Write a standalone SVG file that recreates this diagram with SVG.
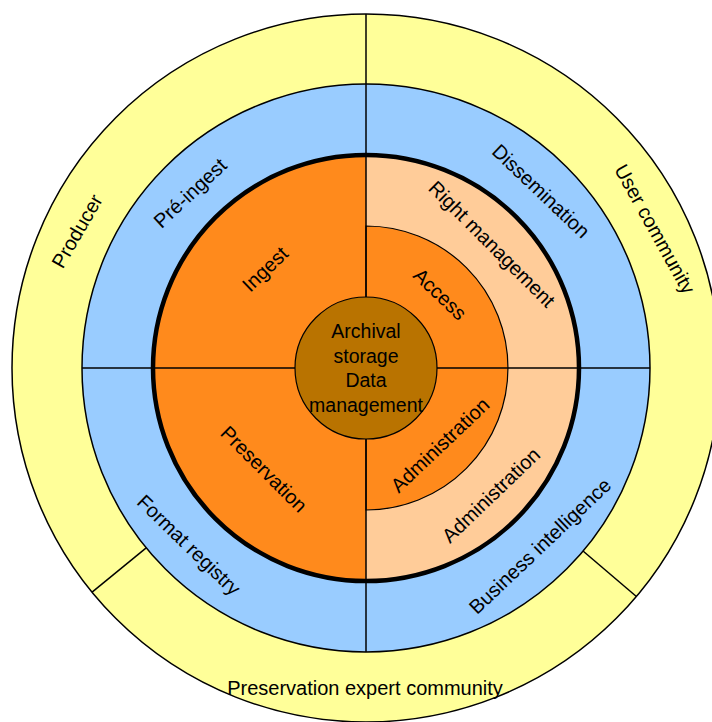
<svg xmlns="http://www.w3.org/2000/svg" width="712" height="722" viewBox="0 0 712 722">
<style>
.ln{stroke:#000;stroke-width:1.5;fill:none}
.t{font-family:"Liberation Sans",Arial,sans-serif;font-size:20px;fill:#000;text-anchor:middle;dominant-baseline:central}
.c{font-family:"Liberation Sans",Arial,sans-serif;font-size:19.5px;fill:#000;text-anchor:middle}
</style>
<rect width="712" height="722" fill="#fff"/>
<g id="outer-ring">
<circle cx="366" cy="368" r="354" fill="#FFFF99" stroke="#000" stroke-width="1.5"/>
</g>
<g id="blue-ring">
<circle cx="366" cy="368" r="284" fill="#99CCFF" stroke="#000" stroke-width="1.5"/>
</g>
<g id="core">
<circle cx="366" cy="368" r="213" fill="#FF8A1C"/>
<path d="M366,155 A213,213 0 0 1 366,581 Z" fill="#FFCC99"/>
<path d="M366,226 A142,142 0 0 1 366,510 Z" fill="#FF8A1C" stroke="#000" stroke-width="1.2"/>
</g>
<g id="connectors">
<line class="ln" x1="366" y1="14" x2="366" y2="652"/>
<line class="ln" x1="82" y1="368" x2="650" y2="368"/>
<line class="ln" x1="583" y1="551" x2="636.4" y2="596.5"/>
<line class="ln" x1="146.2" y1="547.9" x2="92.1" y2="592.2"/>
</g>
<g id="core-border">
<circle cx="366" cy="368" r="213" fill="none" stroke="#000" stroke-width="4.5"/>
</g>
<g id="archival-storage">
<circle cx="366" cy="368" r="71" fill="#B97300" stroke="#000" stroke-width="1.2"/>
<text class="c" x="366" y="338">Archival</text>
<text class="c" x="366" y="362.5">storage</text>
<text class="c" x="366" y="387">Data</text>
<text class="c" x="366" y="411.5">management</text>
</g>
<g id="producer"><text class="t" transform="translate(77,231) rotate(-60)">Producer</text></g>
<g id="user-community"><text class="t" transform="translate(655,229) rotate(61)">User community</text></g>
<g id="preservation-expert-community"><text class="t" x="365" y="688">Preservation expert community</text></g>
<g id="pre-ingest"><text class="t" transform="translate(190,193) rotate(-43)">Pré-ingest</text></g>
<g id="dissemination"><text class="t" transform="translate(541,191) rotate(43.5)">Dissemination</text></g>
<g id="format-registry"><text class="t" transform="translate(189,545) rotate(44)">Format registry</text></g>
<g id="business-intelligence"><text class="t" transform="translate(540,546) rotate(-43.5)">Business intelligence</text></g>
<g id="ingest"><text class="t" transform="translate(265,269) rotate(-44)">Ingest</text></g>
<g id="preservation"><text class="t" transform="translate(264,469) rotate(45)">Preservation</text></g>
<g id="right-management"><text class="t" transform="translate(492,244) rotate(45)">Right management</text></g>
<g id="access"><text class="t" transform="translate(440,294) rotate(44)">Access</text></g>
<g id="administration-inner"><text class="t" transform="translate(440,445) rotate(-43.5)">Administration</text></g>
<g id="administration-outer"><text class="t" transform="translate(491,495) rotate(-43.8)">Administration</text></g>
</svg>
